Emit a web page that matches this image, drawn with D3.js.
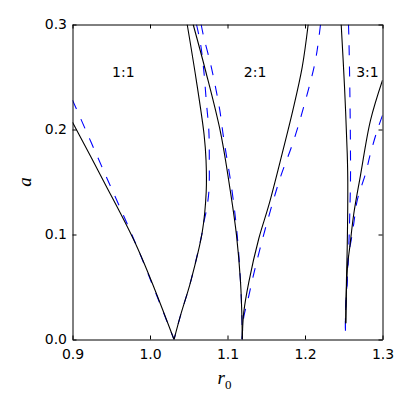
<!DOCTYPE html>
<html>
<head>
<meta charset="utf-8">
<script src="https://cdn.jsdelivr.net/npm/d3@7"></script>
<style>
body { margin: 0; background: #fff; }
svg { display: block; }
.tick text { font-family: "DejaVu Sans", sans-serif; font-size: 14px; fill: #000; }
.domain, .tick line { stroke: #000; }
.solid { fill: none; stroke: #000; stroke-width: 1.1; }
.dashed { fill: none; stroke: #0000ff; stroke-width: 1.1; stroke-dasharray: 10,11; }
.tongue { font-family: "DejaVu Sans", sans-serif; font-size: 14px; }
.axlabel { font-family: "Liberation Serif", serif; font-style: italic; font-size: 19px; }
</style>
</head>
<body>
<div id="chart_placeholder"></div>
<script>
// boundaries of the locking tongues, points are [r0, a]
var solid11Left = [[0.9, 0.207], [0.94, 0.151], [0.984, 0.087], [1.031, 0]];
var dashed11Left = [[0.9, 0.228], [0.94, 0.161], [0.984, 0.087], [1.031, 0]];
var solid11Right = [[1.031, 0], [1.0394, 0.023], [1.0523, 0.0547], [1.0674, 0.1022], [1.0725, 0.1402],
                    [1.0723, 0.1707], [1.0698, 0.195], [1.0595, 0.248], [1.048, 0.3]];
var dashed11Right = [[1.06, 0.3], [1.0652, 0.2816], [1.0694, 0.2563], [1.0729, 0.2246], [1.0759, 0.1992],
                     [1.0765, 0.1709], [1.0759, 0.1402], [1.0723, 0.1212], [1.0686, 0.1089], [1.0674, 0.1022],
                     [1.0523, 0.0547], [1.0394, 0.023], [1.031, 0]];

var solid21Left = [[1.0557, 0.3], [1.0716, 0.2562], [1.091, 0.1973], [1.1039, 0.1402], [1.1116, 0.0994],
                   [1.1168, 0.0547], [1.1187, 0.0185], [1.119, 0]];
var dashed21Left = [[1.066, 0.3], [1.0694, 0.2879], [1.0781, 0.2626], [1.0845, 0.2404], [1.0901, 0.2182],
                    [1.0945, 0.1944], [1.1061, 0.1402], [1.1125, 0.0994], [1.1168, 0.0547], [1.1187, 0.0185], [1.119, 0]];
var solid21Right = [[1.119, 0], [1.1196, 0.012], [1.121, 0.0261], [1.1275, 0.0547], [1.1404, 0.0962],
                    [1.1533, 0.1279], [1.1706, 0.1773], [1.1843, 0.2182], [1.1964, 0.2594], [1.2041, 0.3]];
var dashed21Right = [[1.119, 0], [1.1196, 0.012], [1.121, 0.0215], [1.127, 0.04], [1.1345, 0.0645],
                     [1.1455, 0.0965], [1.1577, 0.1288], [1.1684, 0.1548], [1.1855, 0.1897], [1.2006, 0.2277],
                     [1.2135, 0.2658], [1.22, 0.3]];

var solid31Left = [[1.2467, 0.3], [1.251, 0.2404], [1.2545, 0.1771], [1.2552, 0.1517], [1.2545, 0.0882],
                   [1.2535, 0.0566], [1.2526, 0.0154]];
var solid31Right = [[1.3, 0.247], [1.2845, 0.2087], [1.2716, 0.1564], [1.263, 0.12], [1.2578, 0.0882],
                    [1.2552, 0.0727], [1.2539, 0.0566], [1.253, 0.035], [1.2526, 0.0154]];
var dashed31Left = [[1.2561, 0.3], [1.2565, 0.2911], [1.2578, 0.2404], [1.2587, 0.1771], [1.2587, 0.1517],
                    [1.2578, 0.1203], [1.2565, 0.0882], [1.2545, 0.0566], [1.2523, 0.0252], [1.2523, 0]];
var dashed31Right = [[1.3, 0.2135], [1.2932, 0.1992], [1.2845, 0.1771], [1.2781, 0.158], [1.2674, 0.1326],
                     [1.263, 0.1108], [1.2596, 0.0946], [1.2561, 0.0803], [1.2545, 0.0566], [1.2523, 0.0252], [1.2523, 0]];

var xTicks = [0.9, 1.0, 1.1, 1.2, 1.3];
var yTicks = [0.0, 0.1, 0.2, 0.3];
var tongueNames = ["1:1", "2:1", "3:1"];
var tongueR = [0.951, 1.121, 1.266];
var tongueA = 0.25;

var margin = {top: 24.5, right: 26.5, bottom: 69.5, left: 72.5},
    width = 409 - (margin.left + margin.right),
    height = 409 - (margin.top + margin.bottom);

var x = d3.scaleLinear().domain([0.9, 1.3]).range([0, width]);
var y = d3.scaleLinear().domain([0, 0.3]).range([height, 0]);

var line = d3.line()
  .x(function(d) { return x(d[0]); })
  .y(function(d) { return y(d[1]); })
  .curve(d3.curveCatmullRom.alpha(0.5));

var svg = d3.select("#chart_placeholder")
  .append("svg")
  .attr("width", 409)
  .attr("height", 409)
  .append("g")
  .attr("transform", "translate(" + margin.left + "," + margin.top + ")");

svg.append("clipPath")
  .attr("id", "plotclip")
  .append("rect")
  .attr("width", width)
  .attr("height", height);

var curves = svg.append("g").attr("clip-path", "url(#plotclip)");

[dashed11Left, dashed11Right, dashed21Left, dashed21Right, dashed31Left, dashed31Right].forEach(function(c) {
  curves.append("path").datum(c).attr("class", "dashed").attr("d", line);
});
[solid11Left, solid11Right, solid21Left, solid21Right, solid31Left, solid31Right].forEach(function(c) {
  curves.append("path").datum(c).attr("class", "solid").attr("d", line);
});

svg.selectAll(".tongue")
  .data(tongueNames)
  .enter().append("text")
  .attr("class", "tongue")
  .attr("x", function(d, i) { return x(tongueR[i]); })
  .attr("y", y(tongueA))
  .text(function(d) { return d; });

// ticks point inwards on all four sides
svg.append("g")
  .attr("transform", "translate(0," + height + ")")
  .call(d3.axisBottom(x).tickValues(xTicks).tickFormat(d3.format(".1f"))
    .tickSizeInner(-4).tickSizeOuter(0).tickPadding(9.5));

svg.append("g")
  .call(d3.axisLeft(y).tickValues(yTicks).tickFormat(d3.format(".1f"))
    .tickSizeInner(-4).tickSizeOuter(0).tickPadding(5.5));

svg.append("g")
  .call(d3.axisTop(x).tickValues(xTicks).tickFormat("").tickSizeInner(-4).tickSizeOuter(0));

svg.append("g")
  .attr("transform", "translate(" + width + ",0)")
  .call(d3.axisRight(y).tickValues(yTicks).tickFormat("").tickSizeInner(-4).tickSizeOuter(0));

var xl = svg.append("text")
  .attr("class", "axlabel")
  .attr("x", width / 2 - 3)
  .attr("y", height + 44)
  .attr("text-anchor", "middle");
xl.append("tspan").text("r");
xl.append("tspan")
  .attr("dy", 5)
  .style("font-style", "normal")
  .style("font-size", "13px")
  .text("0");

svg.append("text")
  .attr("class", "axlabel")
  .attr("transform", "translate(-42," + (height / 2) + ") rotate(-90)")
  .attr("text-anchor", "middle")
  .text("a");
</script>
</body>
</html>
